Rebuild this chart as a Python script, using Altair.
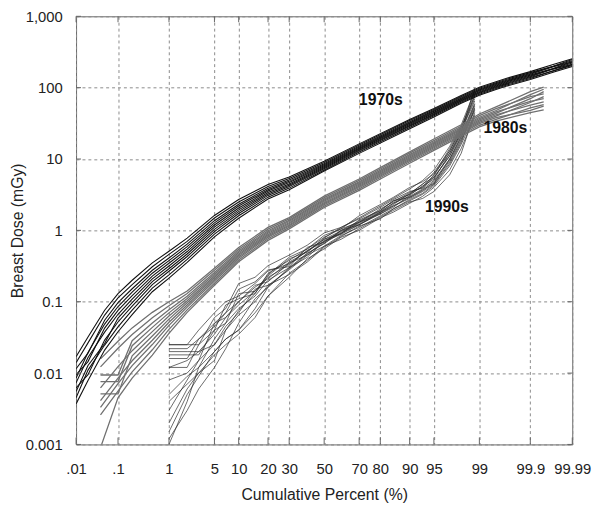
import altair as alt
import pandas as pd
from statistics import NormalDist

# ---------------- data ----------------
# cumulative percent positions at which each decade's curves were read
P70 = [0.01, 0.02, 0.05, 0.1, 0.2, 0.5, 1, 2, 5, 10, 20, 30, 50, 70, 90, 95, 98, 99, 99.5, 99.7, 99.9, 99.97, 99.99]
D70 = [
    [0.0037, 0.0079, 0.021, 0.038, 0.066, 0.138, 0.214, 0.355, 0.81, 1.48, 2.75, 3.7, 6.8, 12.0, 26.6, 38.9, 60.4, 78.5, 94.2, 106, 130, 164, 198],
    [0.0045, 0.011, 0.0247, 0.0445, 0.076, 0.155, 0.238, 0.392, 0.886, 1.60, 2.92, 3.91, 7.03, 12.5, 27.6, 40.3, 62.4, 81.1, 97.3, 109.5, 134.6, 172, 204],
    [0.0062, 0.0095, 0.029, 0.052, 0.087, 0.174, 0.267, 0.43, 0.96, 1.72, 3.09, 4.11, 7.3, 13.0, 28.7, 41.8, 64.5, 83.8, 100.6, 113, 139, 171, 211],
    [0.0055, 0.0128, 0.026, 0.059, 0.097, 0.191, 0.29, 0.467, 1.035, 1.83, 3.24, 4.30, 7.57, 13.4, 29.5, 42.9, 66.1, 85.8, 103, 115.8, 142.4, 182, 212],
    [0.0073, 0.0165, 0.0375, 0.0667, 0.109, 0.209, 0.317, 0.505, 1.109, 1.94, 3.39, 4.47, 7.81, 13.8, 30.4, 44.1, 67.7, 87.9, 105.5, 118.7, 145.9, 183.7, 221.5],
    [0.0095, 0.0145, 0.0427, 0.0755, 0.122, 0.229, 0.346, 0.546, 1.188, 2.06, 3.55, 4.67, 8.07, 14.2, 31.4, 45.3, 69.5, 90.3, 108.4, 121.9, 149.9, 186, 230],
    [0.0085, 0.0194, 0.0486, 0.0856, 0.136, 0.251, 0.377, 0.591, 1.273, 2.19, 3.72, 4.86, 8.34, 14.6, 32.3, 46.6, 71.3, 92.6, 111.1, 125, 153.7, 196, 229],
    [0.0115, 0.019, 0.055, 0.097, 0.152, 0.276, 0.41, 0.64, 1.366, 2.32, 3.89, 5.07, 8.58, 15.1, 33.3, 47.9, 73.1, 94.9, 113.9, 128.1, 157.5, 198.3, 239.1],
    [0.014, 0.0265, 0.065, 0.113, 0.174, 0.309, 0.46, 0.70, 1.49, 2.5, 4.13, 5.34, 8.96, 15.7, 34.6, 49.6, 75.4, 97.9, 117.5, 132.2, 162.5, 200, 248],
    [0.017, 0.032, 0.076, 0.13, 0.20, 0.35, 0.51, 0.78, 1.62, 2.7, 4.4, 5.6, 9.3, 16.3, 35.9, 51, 77.8, 101, 121.2, 136.4, 167.7, 211.1, 254.5],
]

P80 = [0.04, 0.1, 0.2, 0.5, 1, 2, 5, 10, 20, 30, 50, 70, 80, 90, 95, 98, 99, 99.5, 99.9, 99.95]
D80 = [
    [0.0009, 0.0045, 0.0085, 0.0178, 0.036, 0.071, 0.17, 0.363, 0.724, 1.05, 2.09, 3.63, 5.25, 8.71, 13.2, 20.9, 28.2, 33.9, 44.7, 49],
    [0.0026, 0.0056, 0.0104, 0.0212, 0.041, 0.077, 0.182, 0.384, 0.763, 1.10, 2.19, 3.81, 5.50, 9.15, 13.8, 21.9, 29.7, 35.9, 52, 58],
    [0.0033, 0.0071, 0.0127, 0.0251, 0.0466, 0.0841, 0.195, 0.407, 0.804, 1.15, 2.29, 3.99, 5.75, 9.58, 14.4, 22.9, 31.3, 38.0, 48, 55],
    [0.0041, 0.0085, 0.0149, 0.0289, 0.0515, 0.0902, 0.206, 0.426, 0.838, 1.19, 2.37, 4.13, 5.97, 9.93, 14.9, 23.7, 32.6, 39.8, 62, 75],
    [0.0051, 0.0051, 0.0175, 0.0331, 0.0571, 0.0966, 0.218, 0.447, 0.872, 1.24, 2.46, 4.29, 6.20, 10.3, 15.5, 24.6, 34.0, 41.7, 57, 63],
    [0.0062, 0.0123, 0.0206, 0.0381, 0.0631, 0.1035, 0.230, 0.467, 0.910, 1.28, 2.56, 4.45, 6.43, 10.7, 16.1, 25.6, 35.4, 43.7, 70, 88],
    [0.0076, 0.0076, 0.0242, 0.0437, 0.0698, 0.111, 0.243, 0.490, 0.948, 1.33, 2.65, 4.62, 6.67, 11.1, 16.7, 26.5, 36.9, 45.8, 64, 70],
    [0.0094, 0.0094, 0.0284, 0.0502, 0.0773, 0.119, 0.257, 0.513, 0.988, 1.38, 2.75, 4.79, 6.92, 11.5, 17.3, 27.5, 38.5, 47.9, 80, 95],
    [0.0122, 0.0223, 0.0348, 0.0596, 0.0877, 0.130, 0.276, 0.543, 1.04, 1.45, 2.88, 5.02, 7.24, 12.1, 18.1, 28.8, 40.6, 50.8, 75, 82],
    [0.0158, 0.028, 0.043, 0.071, 0.1, 0.141, 0.295, 0.575, 1.1, 1.51, 3.02, 5.25, 7.59, 12.6, 19.1, 30.2, 42.7, 53.7, 88, 102],
]

P90 = [1, 2, 3, 5, 7, 10, 15, 20, 30, 40, 50, 60, 70, 80, 85, 90, 93, 95, 97, 98, 98.8]
D90 = [
    [0.022, 0.022, 0.03, 0.05, 0.07, 0.1, 0.16, 0.21, 0.36, 0.5, 0.75, 0.9, 1.4, 1.9, 2.6, 3.2, 4.5, 5.5, 11, 22, 60],
    [0.001, 0.004, 0.012, 0.03, 0.05, 0.08, 0.12, 0.2, 0.3, 0.48, 0.65, 1.0, 1.2, 1.7, 2.2, 2.8, 3.5, 4.5, 9, 18, 48],
    [0.018, 0.018, 0.018, 0.04, 0.09, 0.11, 0.13, 0.25, 0.38, 0.55, 0.8, 1.05, 1.3, 2.0, 2.5, 3.4, 4.0, 6.0, 14, 28, 75],
    [0.003, 0.008, 0.015, 0.025, 0.045, 0.07, 0.15, 0.17, 0.28, 0.45, 0.6, 0.85, 1.1, 1.6, 2.0, 2.6, 3.2, 4.2, 8, 16, 42],
    [0.025, 0.025, 0.025, 0.06, 0.08, 0.18, 0.22, 0.32, 0.45, 0.62, 0.92, 1.1, 1.5, 2.2, 2.8, 3.8, 5.0, 7.0, 15, 30, 90],
    [0.0015, 0.005, 0.009, 0.02, 0.03, 0.04, 0.07, 0.12, 0.22, 0.4, 0.55, 0.8, 1.0, 1.5, 1.8, 2.4, 3.0, 4.0, 7, 14, 40],
    [0.012, 0.015, 0.02, 0.035, 0.06, 0.09, 0.14, 0.22, 0.33, 0.52, 0.7, 0.95, 1.25, 1.8, 2.4, 3.0, 3.8, 5.0, 10, 20, 55],
    [0.008, 0.01, 0.015, 0.05, 0.06, 0.1, 0.17, 0.19, 0.35, 0.45, 0.72, 0.9, 1.3, 1.7, 2.1, 3.1, 4.2, 5.2, 12, 25, 65],
    [0.016, 0.016, 0.03, 0.045, 0.07, 0.15, 0.19, 0.28, 0.31, 0.58, 0.68, 1.0, 1.35, 1.9, 2.6, 2.9, 3.6, 4.8, 9.5, 19, 50],
    [0.005, 0.009, 0.012, 0.02, 0.03, 0.04, 0.08, 0.16, 0.3, 0.42, 0.7, 0.88, 1.2, 1.75, 2.3, 3.3, 4.4, 6.5, 13, 26, 70],
    [0.02, 0.02, 0.02, 0.025, 0.04, 0.075, 0.13, 0.23, 0.4, 0.5, 0.78, 1.1, 1.45, 2.1, 2.7, 3.5, 3.9, 5.5, 11, 24, 100],
    [0.002, 0.006, 0.01, 0.018, 0.025, 0.035, 0.06, 0.12, 0.25, 0.38, 0.6, 0.75, 1.05, 1.55, 1.9, 2.5, 2.8, 3.5, 6, 12, 45],
    [0.012, 0.012, 0.025, 0.04, 0.05, 0.13, 0.14, 0.24, 0.42, 0.55, 0.85, 1.05, 1.6, 2.3, 2.9, 4.0, 4.8, 6.2, 12, 23, 80],
    [0.004, 0.007, 0.01, 0.015, 0.04, 0.065, 0.1, 0.17, 0.24, 0.36, 0.58, 0.82, 1.15, 1.45, 2.0, 2.7, 3.3, 4.4, 8.5, 17, 52],
    [0.0012, 0.003, 0.006, 0.012, 0.022, 0.05, 0.11, 0.16, 0.29, 0.47, 0.66, 0.92, 1.2, 1.8, 2.2, 2.9, 3.7, 4.6, 10, 21, 58],
    [0.025, 0.025, 0.04, 0.07, 0.1, 0.12, 0.18, 0.27, 0.34, 0.52, 0.75, 0.98, 1.3, 1.85, 2.4, 3.2, 4.1, 5.8, 13, 27, 85],
]

LAB_TEXT = ["1970s", "1980s", "1990s"]
LAB_P = [80.2, 99.67, 96.7]
LAB_V = [66, 27, 2.15]

XT = [0.01, 0.1, 1, 5, 10, 20, 30, 50, 70, 80, 90, 95, 99, 99.9, 99.99]
XL = [".01", ".1", "1", "5", "10", "20", "30", "50", "70", "80", "90", "95", "99", "99.9", "99.99"]
YT = [0.001, 0.01, 0.1, 1, 10, 100, 1000]

# ---------------- build chart ----------------
FONT = "Liberation Sans"
W, H = 503, 434
nd = NormalDist()


def probit(p):
    return nd.inv_cdf(p / 100.0)


rows = []
for g, P, D in [("1970s", P70, D70), ("1980s", P80, D80), ("1990s", P90, D90)]:
    for i, line in enumerate(D):
        for p, v in zip(P, line):
            rows.append({"g": g, "id": f"{g}-{i}", "z": probit(p), "v": v})
df = pd.DataFrame(rows)

xs = alt.Scale(domain=[probit(0.01), probit(99.99)], nice=False, zero=False)
ys = alt.Scale(type="log", domain=[0.001, 1000], nice=False)

expr = "''"
for t, l in zip(XT, XL):
    expr = f"abs(datum.value - ({probit(t):.6f})) < 0.001 ? '{l}' : " + expr

X_AX = alt.Axis(values=[probit(t) for t in XT], labelExpr=expr, labelOverlap=False,
                labelFlush=False, labelPadding=29, labelBaseline="alphabetic",
                title="Cumulative Percent (%)", titleY=56, titleBaseline="alphabetic")
Y_AX = alt.Axis(values=YT, format=",~f", labelOverlap=False, labelFlush=False,
                labelPadding=14, title="Breast Dose (mGy)", titleX=-59, titleY=H / 2,
                titleAlign="center", titleBaseline="middle")


def X(field="z:Q"):
    return alt.X(field, scale=xs, axis=X_AX)


def Y(field="v:Q"):
    return alt.Y(field, scale=ys, axis=Y_AX)


layers = []
styles = {"1970s": ("#111111", 1.1), "1980s": ("#707070", 1.3), "1990s": ("#2a2a2a", 0.7)}
for g in ["1990s", "1980s", "1970s"]:
    c, w = styles[g]
    layers.append(
        alt.Chart(df[df.g == g]).mark_line(color=c, strokeWidth=w, clip=True).encode(
            x=X(), y=Y(), detail="id:N", order="z:Q"
        )
    )

ytick_df = pd.DataFrame({"v": YT})
xtick_df = pd.DataFrame({"z": [probit(t) for t in XT]})
TC = "#666666"
layers.append(alt.Chart(ytick_df).mark_rule(color=TC).encode(y=Y(), x=alt.value(0), x2=alt.value(5)))
layers.append(alt.Chart(ytick_df).mark_rule(color=TC).encode(y=Y(), x=alt.value(W - 5), x2=alt.value(W)))
layers.append(alt.Chart(xtick_df).mark_rule(color=TC).encode(x=X(), y=alt.value(H - 7), y2=alt.value(H)))
layers.append(alt.Chart(xtick_df).mark_rule(color=TC).encode(x=X(), y=alt.value(0), y2=alt.value(6)))

lab_df = pd.DataFrame({"t": LAB_TEXT, "z": [probit(p) for p in LAB_P], "v": LAB_V})
layers.append(
    alt.Chart(lab_df).mark_text(font=FONT, fontSize=16, fontWeight="bold", color="#111111").encode(
        x=X(), y=Y(), text="t:N"
    )
)

chart = (
    alt.layer(*layers)
    .properties(
        width=W,
        height=H,
        padding={"left": 69, "top": 5, "right": 20, "bottom": 60},
        autosize=alt.AutoSizeParams(type="none"),
        background="white",
    )
    .configure_view(stroke="#666666", strokeWidth=1)
    .configure_axis(
        grid=True, gridDash=[3, 3], gridColor="#8a8a8a", gridWidth=1,
        domain=False, ticks=False, tickSize=0,
        labelFont=FONT, labelFontSize=15, labelColor="#222222",
        titleFont=FONT, titleFontSize=16, titleFontWeight="normal", titleColor="#222222",
    )
)

chart.save("out.html", embed_options={"renderer": "svg", "actions": False})
